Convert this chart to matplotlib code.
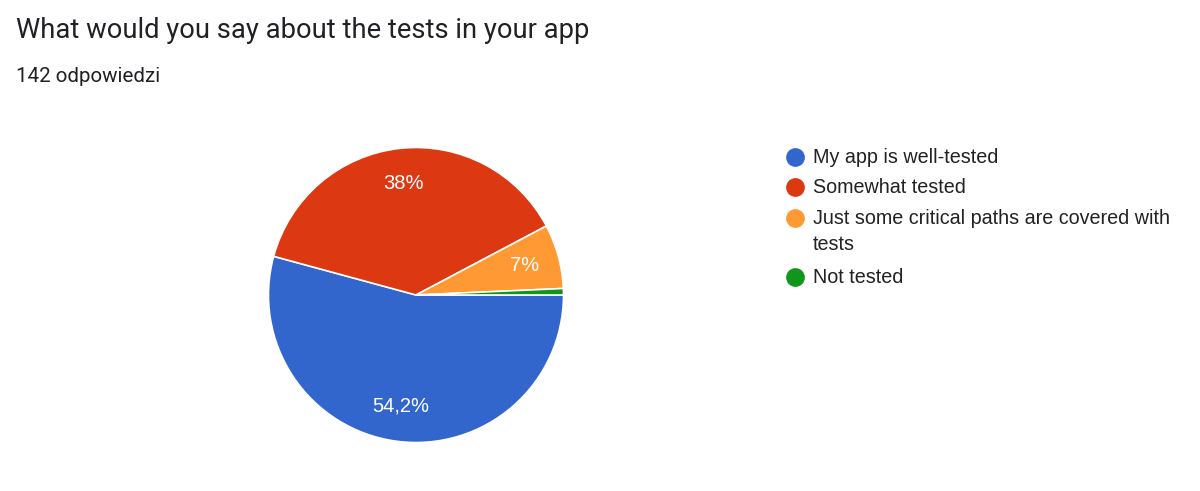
import matplotlib.pyplot as plt
from matplotlib.lines import Line2D

title = "What would you say about the tests in your app"
subtitle = "142 odpowiedzi"
labels = ["My app is well-tested", "Somewhat tested",
          "Just some critical paths are covered with\ntests", "Not tested"]
counts = [77, 54, 10, 1]
pct_labels = ["54,2%", "38%", "7%", ""]
colors = ["#3366CC", "#DC3912", "#FF9933", "#109618"]

W, H = 1200, 491
fig = plt.figure(figsize=(W / 100, H / 100), dpi=100)

# pie occupies a 298px square centred at (416, 295)
ax = fig.add_axes([267 / W, (H - 444) / H, 298 / W, 298 / H])
wedges, _, autotexts = ax.pie(counts, colors=colors, startangle=0, counterclock=False,
                              autopct=lambda p: "", pctdistance=0.76,
                              wedgeprops=dict(edgecolor="white", linewidth=1.2),
                              textprops=dict(family="Liberation Sans"))
for t, lab in zip(autotexts, pct_labels):
    t.set_text(lab)
    t.set_color("white")
    t.set_fontsize(14.5)
ax.set_xlim(-1.01, 1.01)
ax.set_ylim(-1.01, 1.01)
ax.set_aspect("equal")
ax.axis("off")

fig.text(16 / W, 1 - 30 / H, title, fontsize=19.7, family="Roboto", color="#202124", va="center")
fig.text(16 / W, 1 - 77 / H, subtitle, fontsize=14.8, family="Roboto", color="#202124", va="center")

# legend drawn by hand
rows_y = [157, 187, 218, 277]
for y, lab, c in zip(rows_y, labels, colors):
    fig.add_artist(Line2D([795 / W], [1 - y / H], marker="o", markersize=13.5, color=c,
                          markeredgewidth=0, transform=fig.transFigure))
    for i, line in enumerate(lab.split("\n")):
        fig.text(813 / W, 1 - (y + 6 + 26 * i) / H, line, fontsize=14.2,
                 family="Liberation Sans", color="#222222", va="baseline")

fig.savefig("out.png", dpi=100)
